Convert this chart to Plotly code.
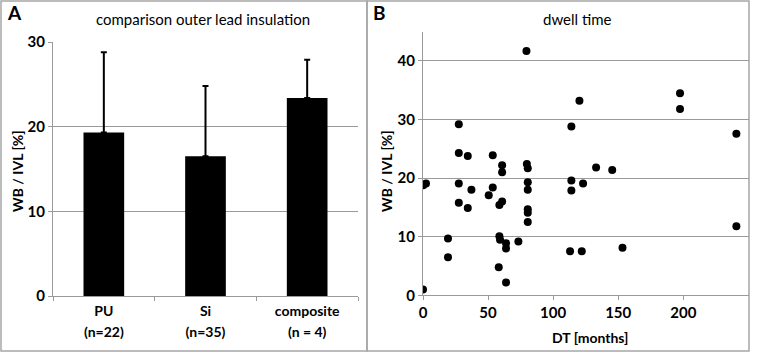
import plotly.graph_objects as go

# ---- data ----
categories = ["PU<br>(n=22)", "Si<br>(n=35)", "composite<br>(n = 4)"]
bar_means = [19.3, 16.5, 23.4]
bar_sd = [9.5, 8.3, 4.5]

dwell_months = [0, 0.2, 2.3, 19.2, 19.2, 27.5, 27.5, 27.5, 27.5, 34.4, 34.4, 37.2,
                50.5, 53.6, 53.6, 60.8, 60.8, 60.8, 58.7, 58.7, 59.2, 63.8, 63.8,
                58.2, 63.8, 73.3, 79.8, 80.5, 80.5, 80.5, 80.5, 80.5, 80.5, 79.5,
                114, 120.2, 197.5, 197.5, 240.8, 133, 145.4, 114, 114, 123, 113,
                122, 153.3, 240.8]
wb_ivl = [1.0, 18.8, 19.1, 9.7, 6.5, 24.3, 19.1, 15.8, 29.2, 23.8, 14.9, 18.0,
          17.1, 23.9, 18.4, 22.2, 21.0, 16.0, 15.4, 10.1, 9.5, 8.9, 8.0,
          4.8, 2.2, 9.2, 22.4, 21.7, 19.3, 18.0, 14.7, 14.1, 12.5, 41.7,
          28.8, 33.2, 34.5, 31.8, 27.6, 21.8, 21.4, 19.6, 17.9, 19.1, 7.5,
          7.5, 8.1, 11.8]
dt_ticks = [0, 50, 100, 150, 200]

W, H = 768, 353
def px(x):
    return x / W
def py(y):
    return 1 - y / H

FONT = "Lato"
GRID = "#9a9a9a"
fig = go.Figure()

fig.add_trace(go.Bar(
    x=categories, y=bar_means, marker=dict(color="black", line=dict(width=0)),
    error_y=dict(type="data", array=bar_sd, arrayminus=[0] * len(bar_sd), symmetric=False,
                 color="black", thickness=2, width=3),
    xaxis="x", yaxis="y", showlegend=False))

fig.add_trace(go.Scatter(
    x=dwell_months, y=wb_ivl, mode="markers",
    marker=dict(color="black", size=8),
    xaxis="x2", yaxis="y2", showlegend=False))

numfont = dict(family=FONT, size=15, color="black", weight="bold")
catfont = dict(family=FONT, size=16, color="black", weight="bold")
cat_ticktext = ["<br>".join('<span style="font-size:14px">%s</span>' % part
                            for part in c.split("<br>")) for c in categories]

fig.update_layout(
    width=W, height=H, margin=dict(l=0, r=0, t=0, b=0, pad=0, autoexpand=False),
    paper_bgcolor="white", plot_bgcolor="white",
    font=dict(family=FONT, color="black"),
    showlegend=False,
    bargap=0.6,
    xaxis=dict(domain=[px(53), px(358)], showline=True, linecolor=GRID, linewidth=1,
               ticks="outside", tickson="boundaries", ticklen=4, tickcolor=GRID,
               tickmode="array", tickvals=categories, ticktext=cat_ticktext,
               tickfont=catfont, showgrid=False, fixedrange=True, automargin=False),
    yaxis=dict(domain=[py(296), py(42)], range=[0, 30], dtick=10, showline=True,
               linecolor=GRID, linewidth=1, ticks="outside", ticklen=4, tickcolor=GRID,
               showgrid=True, gridcolor=GRID, gridwidth=1, zeroline=False,
               tickfont=numfont, automargin=False),
    xaxis2=dict(domain=[px(423), px(749)], range=[0, 250.5], tickvals=dt_ticks,
                showline=True, linecolor=GRID, linewidth=1, ticks="outside", ticklen=4,
                tickcolor=GRID, showgrid=False, zeroline=False, tickfont=numfont,
                anchor="y2", automargin=False),
    yaxis2=dict(domain=[py(295.3), py(31.7)], range=[0, 45], tickvals=[0, 10, 20, 30, 40],
                showline=True, linecolor=GRID, linewidth=1, ticks="outside", ticklen=4,
                tickcolor=GRID, showgrid=True, gridcolor=GRID, gridwidth=1, zeroline=False,
                tickfont=numfont, anchor="x2", automargin=False),
)

# panel frames
fig.add_shape(type="rect", xref="paper", yref="paper", x0=px(1), x1=px(367), y0=py(351), y1=py(1),
              line=dict(color="#a6a6a6", width=1.5), layer="below")
fig.add_shape(type="rect", xref="paper", yref="paper", x0=px(367), x1=px(749), y0=py(351), y1=py(1),
              line=dict(color="#a6a6a6", width=1.5), layer="below")

def ann(text, x, y, size, bold=False, angle=0, xanchor="center", yanchor="middle"):
    fig.add_annotation(text=text, xref="paper", yref="paper", x=px(x), y=py(y),
                       showarrow=False, textangle=angle, xanchor=xanchor, yanchor=yanchor,
                       font=dict(family=FONT, size=size, color="black",
                                 weight="bold" if bold else "normal"))

ann("A", 5, 12, 19, bold=True, xanchor="left")
ann("B", 371, 12, 19, bold=True, xanchor="left")
ann("comparison outer lead insulation", 203, 19, 15)
ann("dwell time", 577, 19, 15)
ann("WB / IVL [%]", 17, 171, 14, bold=True, angle=-90)
ann("WB / IVL [%]", 386, 171, 14, bold=True, angle=-90)
ann("DT [months]", 590, 337, 14, bold=True)

fig.write_html("out.html", config={"displayModeBar": False, "staticPlot": True},
               post_script="document.body.style.margin='0';")
